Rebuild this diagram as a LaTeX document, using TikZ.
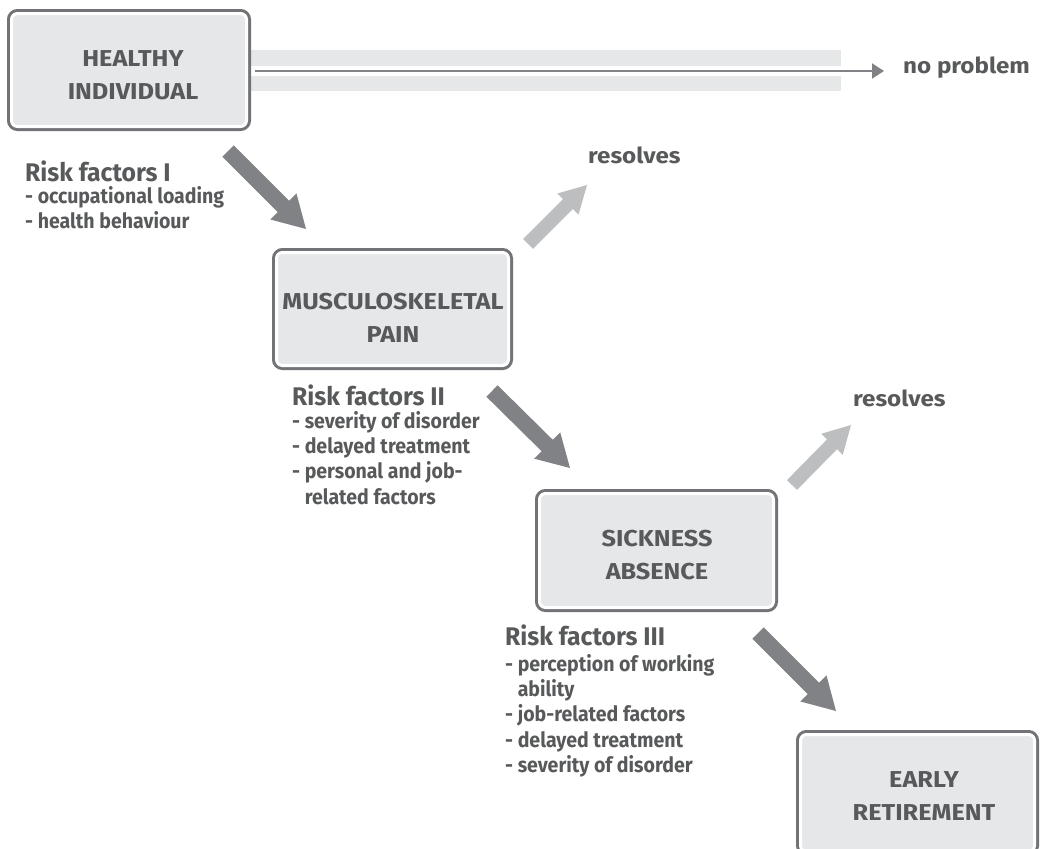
\documentclass[tikz,border=0pt]{standalone}
\usepackage{fontspec}
\setmainfont{Fira Sans}[FakeStretch=1.1]
\newfontfamily\headfont{Fira Sans}[FakeStretch=0.97]
\newfontfamily\listfont{Fira Sans}[FakeStretch=0.93]
\usetikzlibrary{calc,arrows.meta}

\definecolor{txt}{HTML}{58595B}
\definecolor{boxline}{HTML}{727376}
\definecolor{boxfill}{HTML}{E6E7E8}
\definecolor{darrow}{HTML}{808285}
\definecolor{larrow}{HTML}{BCBEC0}

\tikzset{
  stage/.style={fill=boxfill, draw=white, line width=3pt, rounded corners=6pt,
    preaction={draw=boxline, line width=9pt}, inner sep=0pt, outer sep=0pt},
  stagetext/.style={text=txt, align=center, inner sep=0pt,
    font=\bfseries\fontsize{23}{33}\selectfont},
  riskhead/.style={text=txt, anchor=base west, inner sep=0pt,
    font=\headfont\bfseries\fontsize{25.5}{28}\selectfont},
  risklist/.style={text=txt, anchor=base west, inner sep=0pt,
    font=\listfont\bfseries\fontsize{21}{25.4}\selectfont},
  outcome/.style={text=txt, anchor=base west, inner sep=0pt,
    font=\bfseries\fontsize{22}{26}\selectfont},
  darkfat/.style={fill=darrow},
  lightfat/.style={fill=larrow},
  band/.style={fill=boxfill, draw=none},
  thinarrow/.style={draw=darrow, line width=2pt, -{Triangle[length=12pt,width=15pt]}},
}

% block arrow: style, tail, tip, half shaft, half head, head length
\newcommand\fatarrow[6]{%
  \coordinate (fa-h) at ($(#3)!#6!(#2)$);
  \fill[#1] ($(#2)!#4!90:(#3)$) -- ($(fa-h)!#4!90:(#3)$) -- ($(fa-h)!#5!90:(#3)$)
    -- (#3) -- ($(fa-h)!#5!-90:(#3)$) -- ($(fa-h)!#4!-90:(#3)$)
    -- ($(#2)!#4!-90:(#3)$) -- cycle;
}

\begin{document}
\begin{tikzpicture}[x=1pt,y=-1pt]
\clip (0,0) rectangle (1042,849);

% grey band behind the "no problem" line
\fill[band] (250,50) rectangle (841,66);
\fill[band] (250,76) rectangle (841,91);

% stages
\node[stage, minimum width=235pt, minimum height=113pt] (hb) at (129,70) {};
\node[stage, minimum width=232pt, minimum height=113pt] (mp) at (392.5,309) {};
\node[stage, minimum width=234pt, minimum height=114pt] (sa) at (656.5,550.5) {};
\node[stage, minimum width=234pt, minimum height=117pt] (er) at (917.5,793) {};

\node[stagetext] (hbt) at (133,75.5) {HEALTHY\\INDIVIDUAL};
\node[stagetext] (mpt) at (393,317.5) {MUSCULOSKELETAL\\PAIN};
\node[stagetext] (sat) at (657,555) {SICKNESS\\ABSENCE};
\node[stagetext] (ert) at (924,796) {EARLY\\RETIREMENT};

% outcomes
\node[outcome] (np) at (903,73) {no problem};
\node[outcome] (rs1) at (588,163) {resolves};
\node[outcome] (rs2) at (853,406) {resolves};

\coordinate (npin) at (884,71);
\draw[thinarrow] ([xshift=8pt,yshift=-1pt]hb.east) -- (npin);

% risk factors
\node[riskhead] (r1) at (25,181) {Risk factors I};
\node[risklist] (l1) at (25,203) {\begin{tabular}[t]{@{}l@{}}
- occupational loading\\
- health behaviour\end{tabular}};

\node[riskhead] (r2) at (292,405) {Risk factors II};
\node[risklist] (l2) at (292,428) {\begin{tabular}[t]{@{}l@{}}
- severity of disorder\\
- delayed treatment\\
- personal and job-\\
\phantom{- }related factors\end{tabular}};

\node[riskhead] (r3) at (505,645) {Risk factors III};
\node[risklist] (l3) at (505,671) {\begin{tabular}[t]{@{}l@{}}
- perception of working\\
\phantom{- }ability\\
- job-related factors\\
- delayed treatment\\
- severity of disorder\end{tabular}};

% block arrows between the stages
\coordinate (a1s) at (228,151);  \coordinate (a1e) at (306,229);
\coordinate (a2s) at (492,391);  \coordinate (a2e) at (570,468);
\coordinate (a3s) at (758,633);  \coordinate (a3e) at (836,711);
\coordinate (b1s) at (528,244);  \coordinate (b1e) at (587,185);
\coordinate (b2s) at (792,485);  \coordinate (b2e) at (851,425);

\fatarrow{darkfat}{a1s}{a1e}{8pt}{18.5pt}{32pt}
\fatarrow{darkfat}{a2s}{a2e}{8pt}{18.5pt}{32pt}
\fatarrow{darkfat}{a3s}{a3e}{8pt}{18.5pt}{32pt}
\fatarrow{lightfat}{b1s}{b1e}{7pt}{15pt}{27pt}
\fatarrow{lightfat}{b2s}{b2e}{7pt}{15pt}{27pt}
\end{tikzpicture}
\end{document}
